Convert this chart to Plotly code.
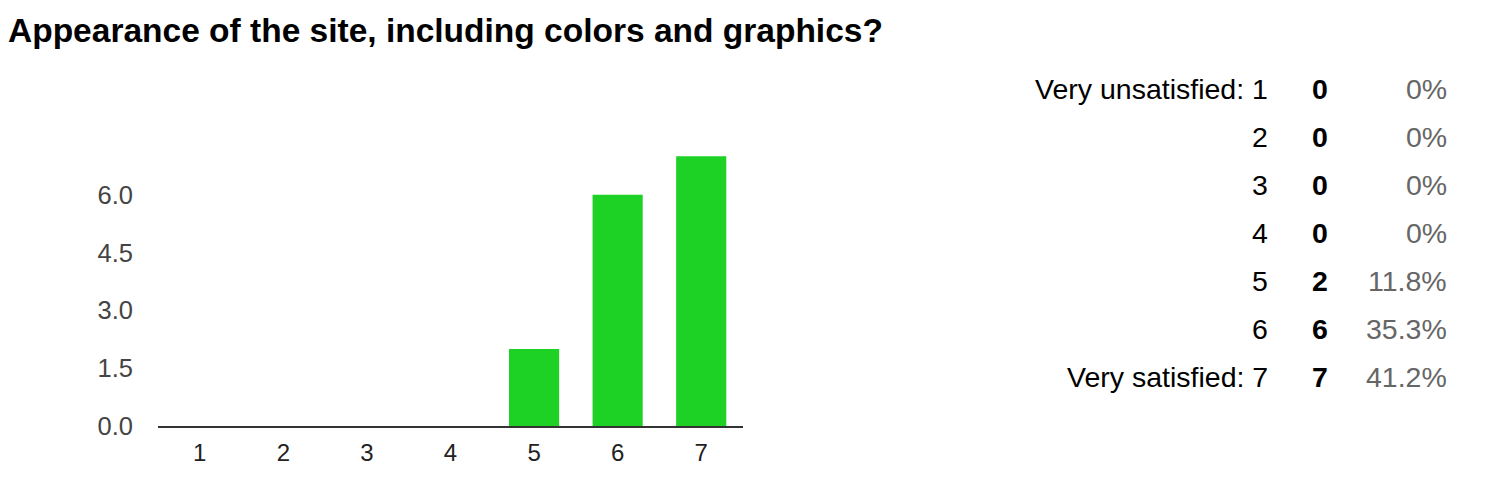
import plotly.graph_objects as go

categories = ["1", "2", "3", "4", "5", "6", "7"]
counts = [0, 0, 0, 0, 2, 6, 7]
row_labels = ["Very unsatisfied: 1", "2", "3", "4", "5", "6", "Very satisfied: 7"]
percents = ["0%", "0%", "0%", "0%", "11.8%", "35.3%", "41.2%"]
y_ticks = [0, 1.5, 3, 4.5, 6]
y_tick_labels = ["0.0", "1.5", "3.0", "4.5", "6.0"]
title_text = "Appearance of the site, including colors and graphics?"

OFF = 8  # default page body margin
W, H = 1490 - OFF, 482 - OFF
L, R, T, B = 158 - OFF, 743 - OFF, 137 - OFF, 426 - OFF
FONT = "Liberation Sans, Arial, sans-serif"

def px(xp):
    return (xp - OFF - L) / (R - L)

def py(yp):
    return (B - (yp - OFF)) / (B - T)

fig = go.Figure()
fig.add_trace(go.Bar(
    x=categories, y=counts,
    marker=dict(color="#1ed125", line=dict(width=0)),
    width=0.6, hoverinfo="x+y",
))

anns = []
row_y0, row_dy = 89, 48
for i, (lab, c, p) in enumerate(zip(row_labels, counts, percents)):
    yy = py(row_y0 + i * row_dy)
    anns.append(dict(text=lab, x=px(1270), y=yy, xref="paper", yref="paper",
                     xanchor="right", yanchor="middle", showarrow=False,
                     font=dict(family=FONT, size=28.5, color="#000000")))
    anns.append(dict(text="<b>%d</b>" % c, x=px(1320), y=yy, xref="paper", yref="paper",
                     xanchor="center", yanchor="middle", showarrow=False,
                     font=dict(family=FONT, size=28.5, color="#000000")))
    anns.append(dict(text=p, x=px(1449), y=yy, xref="paper", yref="paper",
                     xanchor="right", yanchor="middle", showarrow=False,
                     font=dict(family=FONT, size=28.5, color="#666666")))

fig.update_layout(
    width=W, height=H,
    margin=dict(l=L, r=W - R, t=T, b=H - B, pad=0, autoexpand=False),
    paper_bgcolor="white", plot_bgcolor="white",
    showlegend=False,
    title=dict(text="<b>%s</b>" % title_text, x=0, y=1 - 22 / H,
               xref="container", yref="container", xanchor="left", yanchor="middle",
               pad=dict(l=0, t=0, b=0, r=0),
               font=dict(family=FONT, size=33.5, color="#000000")),
    bargap=0.4,
    annotations=anns,
    xaxis=dict(type="category", showgrid=False, zeroline=False, automargin=False,
               showline=True, linecolor="#333333", linewidth=2,
               ticks="", ticklabelstandoff=4,
               tickfont=dict(family=FONT, size=24, color="#222222")),
    yaxis=dict(range=[0, 7.5], tickvals=y_ticks, ticktext=y_tick_labels, automargin=False,
               showgrid=False, zeroline=False, showline=False, ticks="",
               ticklabelstandoff=24,
               tickfont=dict(family=FONT, size=25.5, color="#444444")),
)

fig.write_html("out.html")
